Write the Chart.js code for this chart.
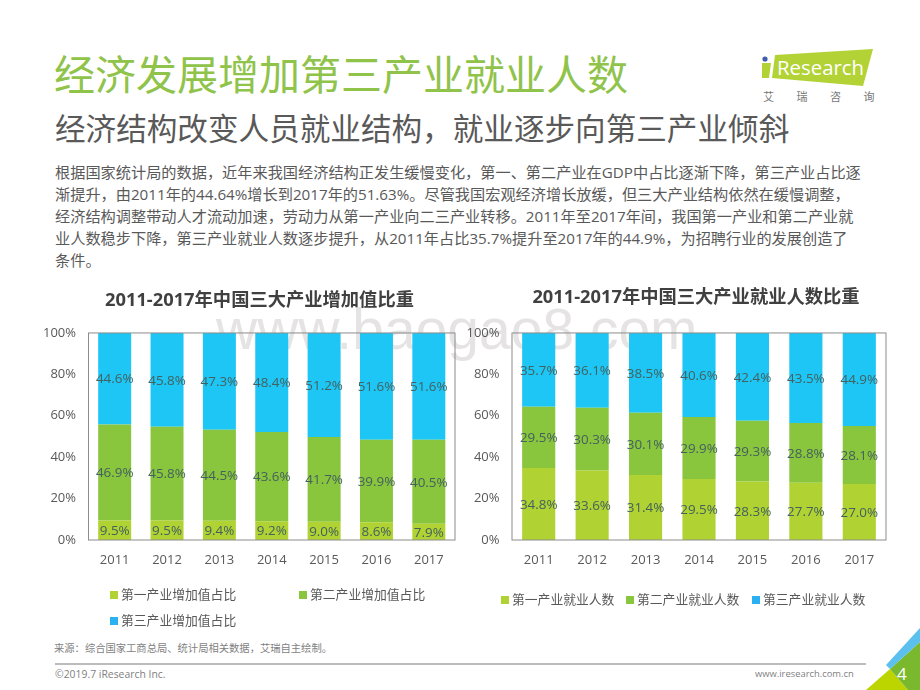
<!DOCTYPE html>
<html lang="zh">
<head>
<meta charset="utf-8">
<script src="https://cdn.jsdelivr.net/npm/chart.js@4/dist/chart.umd.min.js"></script>
<style>
html,body{margin:0;padding:0;background:#fff;width:920px;height:690px;overflow:hidden;font-family:"Open Sans","Noto Sans CJK SC",sans-serif}
.abs{position:absolute;white-space:nowrap}
canvas{position:absolute}
.leg{position:absolute;white-space:nowrap;font-size:12.8px;color:#595959;line-height:16px}
.leg i{display:inline-block;width:8px;height:8px;margin-right:3px;vertical-align:0}
.para{font-size:15.2px;line-height:22px;color:#595959;left:55px}
</style>
</head>
<body>
<div class="abs" id="wm" style="left:216px;top:296px;font-size:57px;color:#e6e3e4;font-family:'Liberation Sans'">www.baogao8.com</div>
<div class="abs" style="left:54px;top:44px;font-size:41px;line-height:60px;color:#8fc34a">经济发展增加第三产业就业人数</div>
<div class="abs" style="left:55px;top:106px;font-size:30.6px;line-height:44px;color:#595959">经济结构改变人员就业结构，就业逐步向第三产业倾斜</div>
<div class="abs para" style="top:161px">根据国家统计局的数据，近年来我国经济结构正发生缓慢变化，第一、第二产业在GDP中占比逐渐下降，第三产业占比逐</div>
<div class="abs para" style="top:183px">渐提升，由2011年的44.64%增长到2017年的51.63%。尽管我国宏观经济增长放缓，但三大产业结构依然在缓慢调整，</div>
<div class="abs para" style="top:205px">经济结构调整带动人才流动加速，劳动力从第一产业向二三产业转移。2011年至2017年间，我国第一产业和第二产业就</div>
<div class="abs para" style="top:227px">业人数稳步下降，第三产业就业人数逐步提升，从2011年占比35.7%提升至2017年的44.9%，为招聘行业的发展创造了</div>
<div class="abs para" style="top:249px">条件。</div>

<svg class="abs" width="920" height="690" style="left:0;top:0" viewBox="0 0 920 690">
  <polygon points="775,55 873,49 863,86 772,78" fill="#b2d235"/>
  <polygon points="762,63 771,63 769,78 762,78" fill="#b2d235"/>
  <circle cx="765" cy="59" r="2.6" fill="#3f5fa8"/>
  <text x="777" y="75" font-family="Open Sans" font-size="20" fill="#fff" textLength="87" lengthAdjust="spacingAndGlyphs">Research</text>
  <text x="763" y="101" font-family="Noto Sans CJK SC" font-size="11" fill="#777" letter-spacing="22.5">艾瑞咨询</text>
  <polygon points="866,690 890,669 908,690" fill="#bcd400"/>
  <polygon points="890,669 920,642 920,690 908,690" fill="#7ab82e"/>
  <polygon points="886,665 920,628 920,642 890,669" fill="#5bc0ee"/>
  <text x="897" y="680" font-family="Open Sans" font-size="17" fill="#fff">4</text>
  <line x1="55" y1="664" x2="866" y2="664" stroke="#a6a6a6" stroke-width="1.4"/>
</svg>

<div class="abs" style="left:54px;top:640px;font-size:10.3px;color:#7f7f7f">来源：综合国家工商总局、统计局相关数据，艾瑞自主绘制。</div>
<div class="abs" style="left:55px;top:667px;font-size:10.4px;color:#7f7f7f">©2019.7 iResearch Inc.</div>
<div class="abs" style="left:755px;top:667px;font-size:9.4px;color:#7f7f7f">www.iresearch.com.cn</div>

<canvas id="c1" width="460" height="350" style="left:0;top:280px;width:460px;height:350px"></canvas>
<canvas id="c2" width="460" height="350" style="left:460px;top:280px;width:460px;height:350px"></canvas>
<div id="leg1"></div>
<div id="leg2"></div>

<script>
const years = ['2011','2012','2013','2014','2015','2016','2017'];
const yTicks = [0,20,40,60,80,100];
const colors = ['#b0d232','#8ac53e','#1ec6f5'];
const legendColors = ['#b0d232','#8ac53e','#2ab2f0'];

const title1 = '2011-2017年中国三大产业增加值比重';
const names1 = ['第一产业增加值占比','第二产业增加值占比','第三产业增加值占比'];
const primary1 = [9.5,9.5,9.4,9.2,9.0,8.6,7.9];
const secondary1 = [46.9,45.8,44.5,43.6,41.7,39.9,40.5];
const tertiary1 = [44.6,45.8,47.3,48.4,51.2,51.6,51.6];
const labels1 = [['9.5%','9.5%','9.4%','9.2%','9.0%','8.6%','7.9%'],
                 ['46.9%','45.8%','44.5%','43.6%','41.7%','39.9%','40.5%'],
                 ['44.6%','45.8%','47.3%','48.4%','51.2%','51.6%','51.6%']];

const title2 = '2011-2017年中国三大产业就业人数比重';
const names2 = ['第一产业就业人数','第二产业就业人数','第三产业就业人数'];
const primary2 = [34.8,33.6,31.4,29.5,28.3,27.7,27.0];
const secondary2 = [29.5,30.3,30.1,29.9,29.3,28.8,28.1];
const tertiary2 = [35.7,36.1,38.5,40.6,42.4,43.5,44.9];
const labels2 = [['34.8%','33.6%','31.4%','29.5%','28.3%','27.7%','27.0%'],
                 ['29.5%','30.3%','30.1%','29.9%','29.3%','28.8%','28.1%'],
                 ['35.7%','36.1%','38.5%','40.6%','42.4%','43.5%','44.9%']];

const FONT = '"Open Sans","Noto Sans CJK SC",sans-serif';

// Labels and frame drawn from the library's own elements and chart area.
const decor = {
  id:'decor',
  afterLayout(chart,args,opts){
    if(chart.titleBlock){ chart.titleBlock.left += opts.titleShift; chart.titleBlock.right += opts.titleShift; }
  },
  afterDatasetsDraw(chart){
    const {ctx,chartArea:a} = chart;
    ctx.save();
    chart.data.datasets.forEach((ds,i)=>{
      chart.getDatasetMeta(i).data.forEach((bar,j)=>{
        const mid = (bar.y + bar.base)/2;
        ctx.font = '13.4px '+FONT;
        ctx.fillStyle = '#44615f';
        ctx.textAlign = 'center';
        ctx.textBaseline = 'middle';
        ctx.fillText(ds.shown[j], bar.x, mid+1);
      });
    });
    ctx.strokeStyle = '#8c8c8c';
    ctx.lineWidth = 1;
    ctx.strokeRect(a.left,a.top,a.right-a.left,a.bottom-a.top);
    ctx.restore();
  }
};

function share(a,b,c,k){ return a.map((_,i)=>[a,b,c][k][i]/(a[i]+b[i]+c[i])*100); }

function build(id,title,names,a,b,c,shown,yW,padR,barPct,titleTop,titlePad,titleShift){
  return new Chart(document.getElementById(id),{
    type:'bar',
    data:{labels:years,datasets:[0,1,2].map(k=>({
      label:names[k],
      data:share(a,b,c,k),
      shown:shown[k],
      backgroundColor:colors[k],
      borderWidth:0,
      barPercentage:barPct,
      categoryPercentage:1
    }))},
    plugins:[decor],
    options:{
      responsive:false,animation:false,
      layout:{padding:{left:0,right:padR,top:titleTop,bottom:0}},
      plugins:{
        decor:{titleShift},
        legend:{display:false},
        tooltip:{enabled:false},
        title:{display:true,text:title,color:'#404040',font:{family:FONT,size:18.3,weight:'bold',lineHeight:1.2},padding:{top:0,bottom:titlePad}}
      },
      scales:{
        x:{stacked:true,grid:{display:false},border:{display:false},
           ticks:{color:'#595959',font:{family:FONT,size:13},padding:4,maxRotation:0},
           afterFit(s){s.height=90;}},
        y:{stacked:true,min:0,max:100,grid:{display:false,drawTicks:false},border:{display:false},
           afterBuildTicks(s){s.ticks=yTicks.map(v=>({value:v}));},
           ticks:{color:'#595959',font:{family:FONT,size:13},padding:12.5,callback:v=>v+'%'},
           afterFit(s){s.width=yW;}}
      }
    }
  });
}
build('c1',title1,names1,primary1,secondary1,tertiary1,labels1,88.5,5,0.63,10,21,32);
build('c2',title2,names2,primary2,secondary2,tertiary2,labels2,52,34,0.62,7,24,23);

function legend(host,names,pos){
  names.forEach((n,k)=>{
    const d=document.createElement('div');
    d.className='leg';
    d.style.left=pos[k][0]+'px'; d.style.top=pos[k][1]+'px';
    const i=document.createElement('i'); i.style.background=legendColors[k];
    d.appendChild(i); d.appendChild(document.createTextNode(n));
    document.getElementById(host).appendChild(d);
  });
}
legend('leg1',names1,[[110,586],[299,586],[110,612]]);
legend('leg2',names2,[[501,591],[626,591],[752,591]]);
</script>
</body>
</html>
